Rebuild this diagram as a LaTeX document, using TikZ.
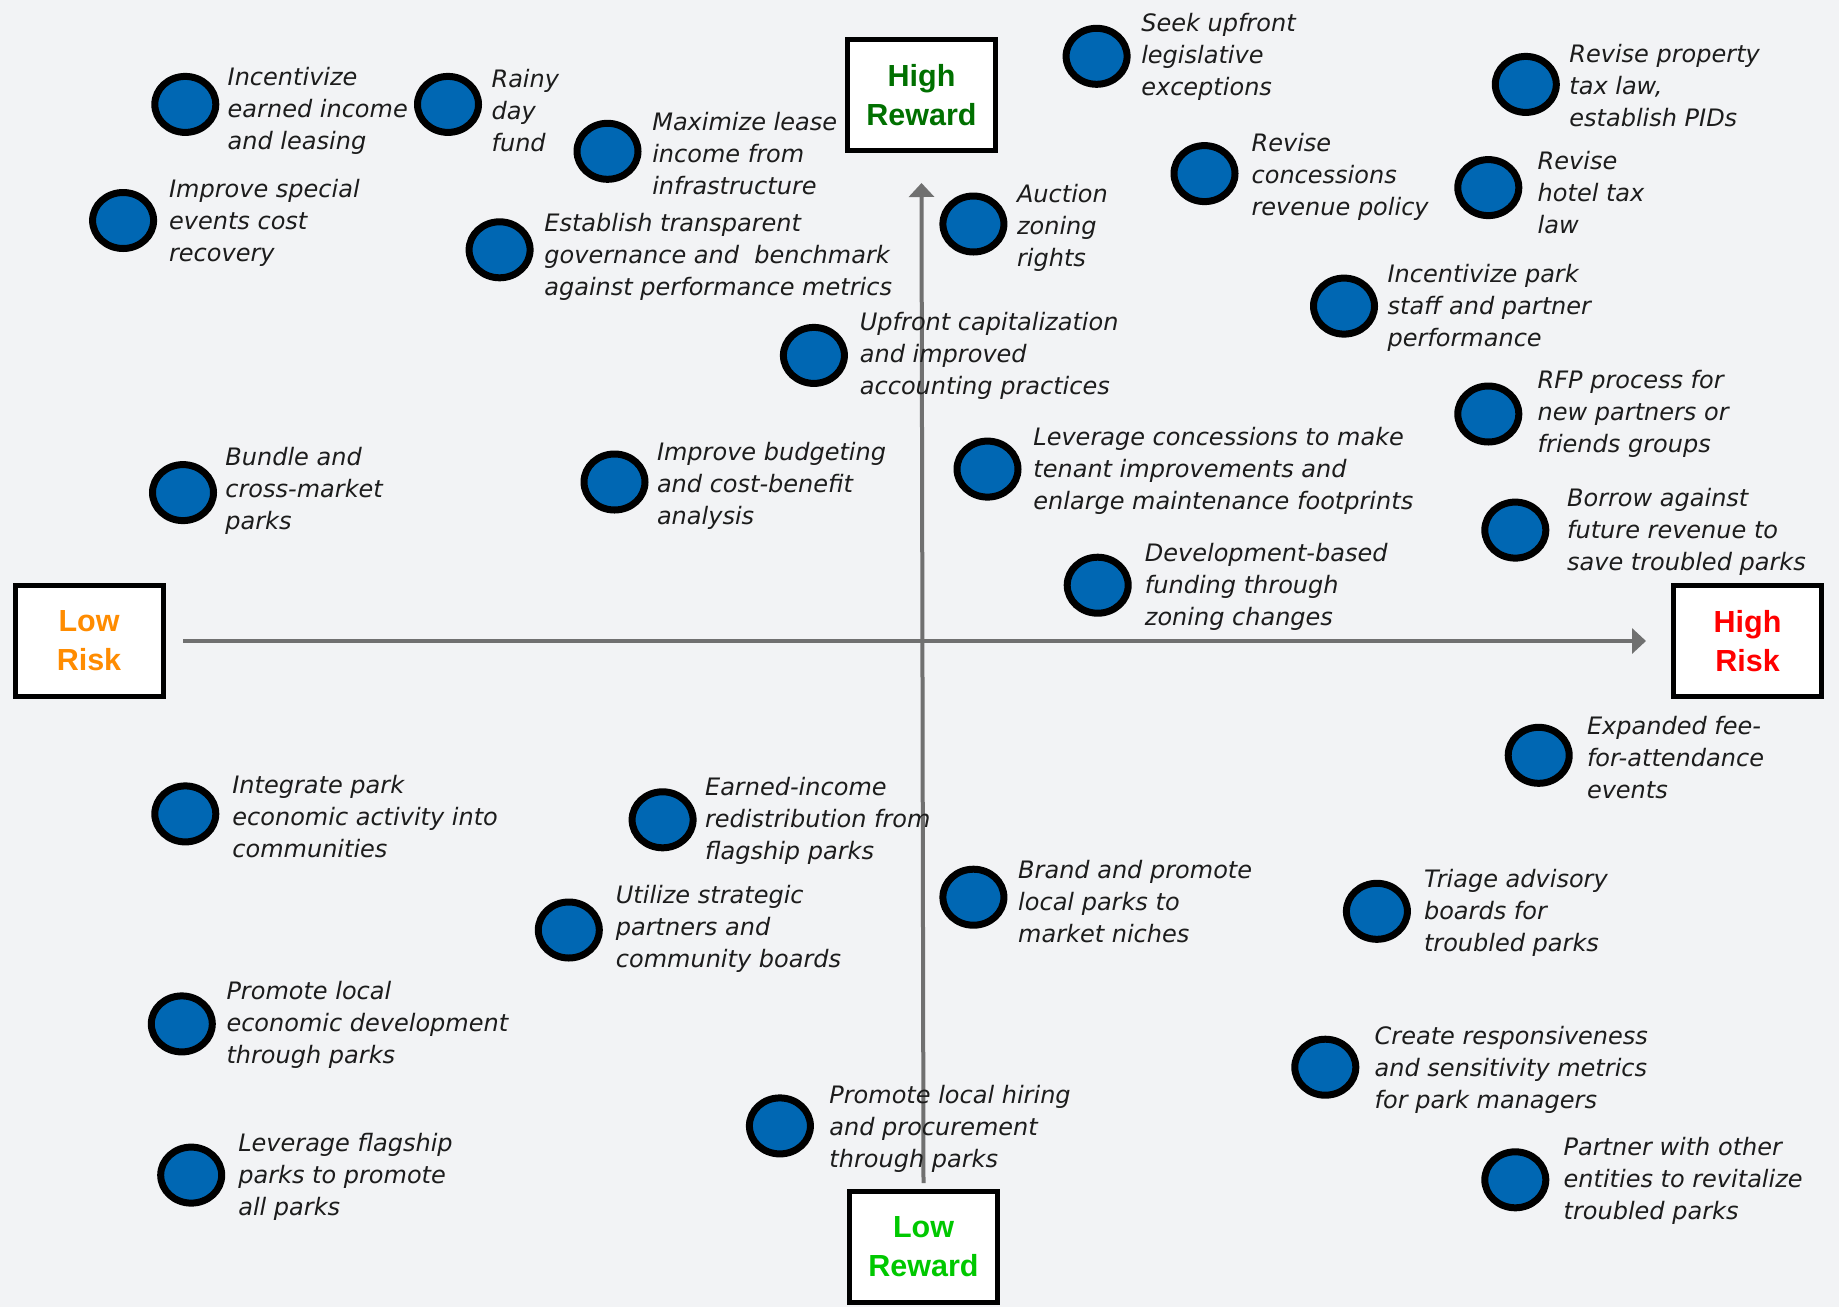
\documentclass[tikz,border=0pt]{standalone}
\usepackage{fontspec}
\setmainfont{DejaVu Sans}
\newfontfamily\boxfont{Liberation Sans}
\usetikzlibrary{shapes.geometric,arrows.meta}
\definecolor{bg}{RGB}{242,243,245}
\definecolor{dotblue}{RGB}{0,103,179}
\definecolor{txt}{RGB}{28,28,28}
\definecolor{axisgray}{RGB}{112,112,112}
\definecolor{hrgreen}{RGB}{0,112,0}
\definecolor{lrgreen}{RGB}{0,200,0}
\definecolor{lorange}{RGB}{255,140,0}
\definecolor{hred}{RGB}{255,0,0}
\begin{document}
\begin{tikzpicture}[x=1pt,y=-1pt,
  dot/.style={ellipse, draw=black, line width=7pt, fill=dotblue, minimum width=61pt, minimum height=56pt, inner sep=0pt},
  lbl/.style={anchor=west, inner sep=0pt, yshift=-2.5pt, align=left, text=txt, font=\fontsize{24}{32}\selectfont\itshape},
  axisbox/.style={draw=black, line width=5pt, fill=white, minimum width=148pt, minimum height=111pt, inner sep=0pt, align=center, font=\boxfont\bfseries\fontsize{30.5}{39}\selectfont},
  axisline/.style={draw=axisgray, line width=4pt, -{Triangle[length=14pt,width=25pt]}}
]
\fill[bg] (0,0) rectangle (1839,1307);
\useasboundingbox (0,0) rectangle (1839,1307);

% axis boxes
\node[axisbox, text=hrgreen] (highreward) at (921.5,95) {High\\Reward};
\node[axisbox, text=lorange] (lowrisk) at (89,641) {Low\\Risk};
\node[axisbox, text=hred] (highrisk) at (1747.5,641) {High\\Risk};
\node[axisbox, text=lrgreen] (lowreward) at (923.5,1247) {Low\\Reward};

% axes
\draw[axisline] ([xshift=17.5pt]lowrisk.east) -- ([xshift=-25pt]highrisk.west);
\draw[axisline] ([yshift=6pt]lowreward.north) -- ([yshift=-30pt]highreward.south);

% items
\node[dot] (c1) at (185.3,104.4) {};
\node[lbl] (t1) at (227.5,107.9) {Incentivize\\earned income\\and leasing};
\node[dot] (c2) at (448.0,104.4) {};
\node[lbl] (t2) at (491.4,107.9) {Rainy\\day\\fund};
\node[dot] (c3) at (607.5,151.3) {};
\node[lbl] (t3) at (652.1,151.3) {Maximize lease\\income from\\infrastructure};
\node[dot] (c4) at (123.1,220.5) {};
\node[lbl] (t4) at (168.9,220.5) {Improve special\\events cost\\recovery};
\node[dot] (c5) at (499.6,249.8) {};
\node[lbl] (t5) at (544.2,254.5) {Establish transparent\\governance and~ benchmark\\against performance metrics};
\node[dot] (c6) at (1096.6,56.3) {};
\node[lbl] (t6) at (1141.1,53.9) {Seek upfront\\legislative\\exceptions};
\node[dot] (c7) at (973.4,224.0) {};
\node[lbl] (t7) at (1016.8,225.2) {Auction\\zoning\\rights};
\node[dot] (c8) at (1204.5,173.6) {};
\node[lbl] (t8) at (1251.4,174.7) {Revise\\concessions\\revenue policy};
\node[dot] (c9) at (1525.8,84.4) {};
\node[lbl] (t9) at (1569.2,83.3) {Revise property\\tax law,\\establish PIDs};
\node[dot] (c10) at (1488.3,187.6) {};
\node[lbl] (t10) at (1537.5,190.0) {Revise\\hotel tax\\law};
\node[dot] (c11) at (1344.0,306.1) {};
\node[lbl] (t11) at (1387.4,304.9) {Incentivize park\\staff and partner\\performance};
\node[dot] (c12) at (813.9,355.4) {};
\node[lbl] (t12) at (859.7,353.0) {Upfront capitalization\\and improved\\accounting practices};
\node[dot] (c13) at (1488.3,414.0) {};
\node[lbl] (t13) at (1537.5,411.7) {RFP process for\\new partners or\\friends groups};
\node[dot] (c14) at (183.0,492.6) {};
\node[lbl] (t14) at (225.2,487.9) {Bundle and\\cross-market\\parks};
\node[dot] (c15) at (614.5,482.0) {};
\node[lbl] (t15) at (656.8,483.2) {Improve budgeting\\and cost-benefit\\analysis};
\node[dot] (c16) at (987.5,469.1) {};
\node[lbl] (t16) at (1033.2,468.0) {Leverage concessions to make\\tenant improvements and\\enlarge maintenance footprints};
\node[dot] (c17) at (1515.3,530.1) {};
\node[lbl] (t17) at (1566.9,528.9) {Borrow against\\future revenue to\\save troubled parks};
\node[dot] (c18) at (1097.7,585.2) {};
\node[lbl] (t18) at (1144.7,584.1) {Development-based\\funding through\\zoning changes};
\node[dot] (c19) at (1538.7,755.3) {};
\node[lbl] (t19) at (1586.8,755.3) {Expanded fee-\\for-attendance\\events};
\node[dot] (c20) at (185.3,813.9) {};
\node[lbl] (t20) at (232.2,813.9) {Integrate park\\economic activity into\\communities};
\node[dot] (c21) at (662.6,819.8) {};
\node[lbl] (t21) at (704.9,818.6) {Earned-income\\redistribution from\\flagship parks};
\node[dot] (c22) at (973.4,897.2) {};
\node[lbl] (t22) at (1018.0,899.5) {Brand and promote\\local parks to\\market niches};
\node[dot] (c23) at (1376.9,911.3) {};
\node[lbl] (t23) at (1423.8,910.1) {Triage advisory\\boards for\\troubled parks};
\node[dot] (c24) at (568.8,930.0) {};
\node[lbl] (t24) at (615.7,926.5) {Utilize strategic\\partners and\\community boards};
\node[dot] (c25) at (181.8,1023.9) {};
\node[lbl] (t25) at (226.3,1022.7) {Promote local\\economic development\\through parks};
\node[dot] (c26) at (1325.3,1067.2) {};
\node[lbl] (t26) at (1374.5,1067.2) {Create responsiveness\\and sensitivity metrics\\for park managers};
\node[dot] (c27) at (779.9,1125.9) {};
\node[lbl] (t27) at (829.2,1125.9) {Promote local hiring\\and procurement\\through parks};
\node[dot] (c28) at (191.2,1175.1) {};
\node[lbl] (t28) at (238.1,1173.9) {Leverage flagship\\parks to promote\\all parks};
\node[dot] (c29) at (1515.3,1179.8) {};
\node[lbl] (t29) at (1563.4,1178.7) {Partner with other\\entities to revitalize\\troubled parks};
\end{tikzpicture}
\end{document}
